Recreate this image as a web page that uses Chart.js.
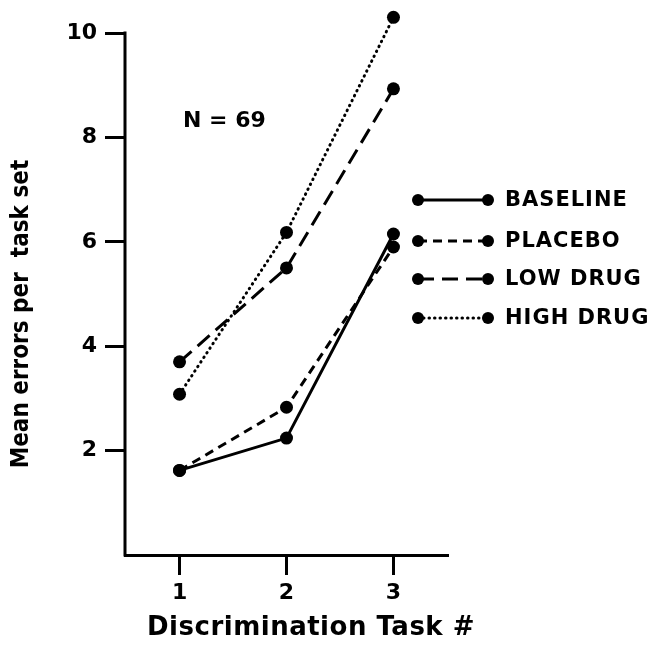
<!DOCTYPE html>
<html>
<head>
<meta charset="utf-8">
<script src="https://cdn.jsdelivr.net/npm/chart.js@4.4.0/dist/chart.umd.min.js"></script>
<style>
  html, body { margin: 0; padding: 0; background: #fff; }
  #wrap { width: 654px; height: 647px; position: relative; }
</style>
</head>
<body>
<div id="wrap"><canvas id="lineChart"></canvas></div>
<script>
// task numbers on the x axis
var tasks = [1, 2, 3];
var yTicks = [2, 4, 6, 8, 10];

// mean errors per task set
var baseline = [1.62, 2.24, 6.15];
var placebo  = [1.62, 2.83, 5.90];
var lowDrug  = [3.70, 5.50, 8.93];
var highDrug = [3.08, 6.18, 10.30];

var seriesNames = ['BASELINE', 'PLACEBO', 'LOW DRUG', 'HIGH DRUG'];

var FONT = '"DejaVu Sans"';
var NARROW = '"DejaVu Sans Condensed", "DejaVu Sans"';

function pts(vals) {
    return vals.map(function(v, i){ return {x: tasks[i], y: v}; });
}

function makeSet(label, vals, dash, cap) {
    return {
        label: label,
        data: pts(vals),
        borderColor: '#000',
        backgroundColor: '#000',
        borderWidth: 3,
        borderDash: dash,
        borderCapStyle: cap || 'butt',
        pointRadius: 6.5,
        pointHoverRadius: 6.5,
        pointBorderWidth: 0,
        tension: 0,
        clip: false,
        fill: false
    };
}

var datasets = [
    makeSet(seriesNames[0], baseline, []),
    makeSet(seriesNames[1], placebo, [9, 6]),
    makeSet(seriesNames[2], lowDrug, [16, 8]),
    makeSet(seriesNames[3], highDrug, [0.5, 5], 'round')
];

// y axis line (stops at 10), legend, N label and axis titles
var extras = {
    id: 'extras',
    afterDraw: function(chart) {
        var ctx = chart.ctx;
        var ys = chart.scales.y;
        ctx.save();
        ctx.fillStyle = '#000';
        ctx.strokeStyle = '#000';

        ctx.lineWidth = 3;
        ctx.beginPath();
        ctx.moveTo(chart.chartArea.left, ys.getPixelForValue(0) + 1.5);
        ctx.lineTo(chart.chartArea.left, ys.getPixelForValue(10) - 1.5);
        ctx.stroke();

        // legend
        var rows = [200, 241, 279, 318];
        chart.data.datasets.forEach(function(ds, i){
            var y = rows[i];
            ctx.lineWidth = 3;
            ctx.lineCap = ds.borderCapStyle;
            ctx.setLineDash(ds.borderDash);
            ctx.beginPath();
            ctx.moveTo(418, y);
            ctx.lineTo(488, y);
            ctx.stroke();
            ctx.setLineDash([]);
            [418, 488].forEach(function(x){
                ctx.beginPath();
                ctx.arc(x, y, 6, 0, Math.PI * 2);
                ctx.fill();
            });
            ctx.font = 'bold 21px ' + FONT;
            ctx.letterSpacing = '1px';
            ctx.textAlign = 'left';
            ctx.textBaseline = 'middle';
            ctx.fillText(ds.label, 505, y + 1);
        });

        // N = 69
        ctx.letterSpacing = '0px';
        ctx.font = 'bold 22px ' + FONT;
        ctx.textAlign = 'left';
        ctx.textBaseline = 'middle';
        ctx.fillText('N = 69', 183, 121);

        // x title
        ctx.font = 'bold 26px ' + FONT;
        ctx.letterSpacing = '0.5px';
        ctx.textAlign = 'center';
        ctx.textBaseline = 'middle';
        ctx.fillText('Discrimination Task #', 311, 628);

        // y title
        ctx.letterSpacing = '0px';
        ctx.translate(22, 314);
        ctx.rotate(-Math.PI / 2);
        ctx.font = 'bold 24px ' + NARROW;
        ctx.fillText('Mean errors per  task set', 0, 0);
        ctx.restore();
    }
};

var lineChartCanvas = document.getElementById('lineChart').getContext('2d');

new Chart(lineChartCanvas, {
    type: 'line',
    data: { datasets: datasets },
    options: {
        responsive: true,
        maintainAspectRatio: false,
        animation: false,
        events: [],
        layout: { padding: { left: 0, right: 206, top: 9, bottom: 0 } },
        plugins: {
            legend: { display: false },
            tooltip: { enabled: false }
        },
        scales: {
            x: {
                type: 'linear',
                min: 0.49,
                max: 3.51,
                afterFit: function(s){
                    s.height = 92;
                    s.paddingLeft = 0;
                    s.paddingRight = 0;
                },
                afterBuildTicks: function(s){
                    s.ticks = tasks.map(function(v){ return {value: v}; });
                },
                border: { color: '#000', width: 3 },
                grid: {
                    drawOnChartArea: false,
                    color: '#000',
                    tickLength: 20,
                    tickWidth: 3
                },
                ticks: {
                    color: '#000',
                    padding: 5,
                    font: { family: 'DejaVu Sans', size: 22, weight: 'bold' }
                }
            },
            y: {
                min: 0,
                max: 10.46,
                afterFit: function(s){
                    s.width = 125;
                    s.paddingTop = 0;
                    s.paddingBottom = 0;
                },
                afterBuildTicks: function(s){
                    s.ticks = yTicks.map(function(v){ return {value: v}; });
                },
                border: { display: false },
                grid: {
                    drawOnChartArea: false,
                    color: '#000',
                    tickLength: 20,
                    tickWidth: 3
                },
                ticks: {
                    color: '#000',
                    padding: 8,
                    font: { family: 'DejaVu Sans', size: 22, weight: 'bold' }
                }
            }
        }
    },
    plugins: [extras]
});
</script>
</body>
</html>
